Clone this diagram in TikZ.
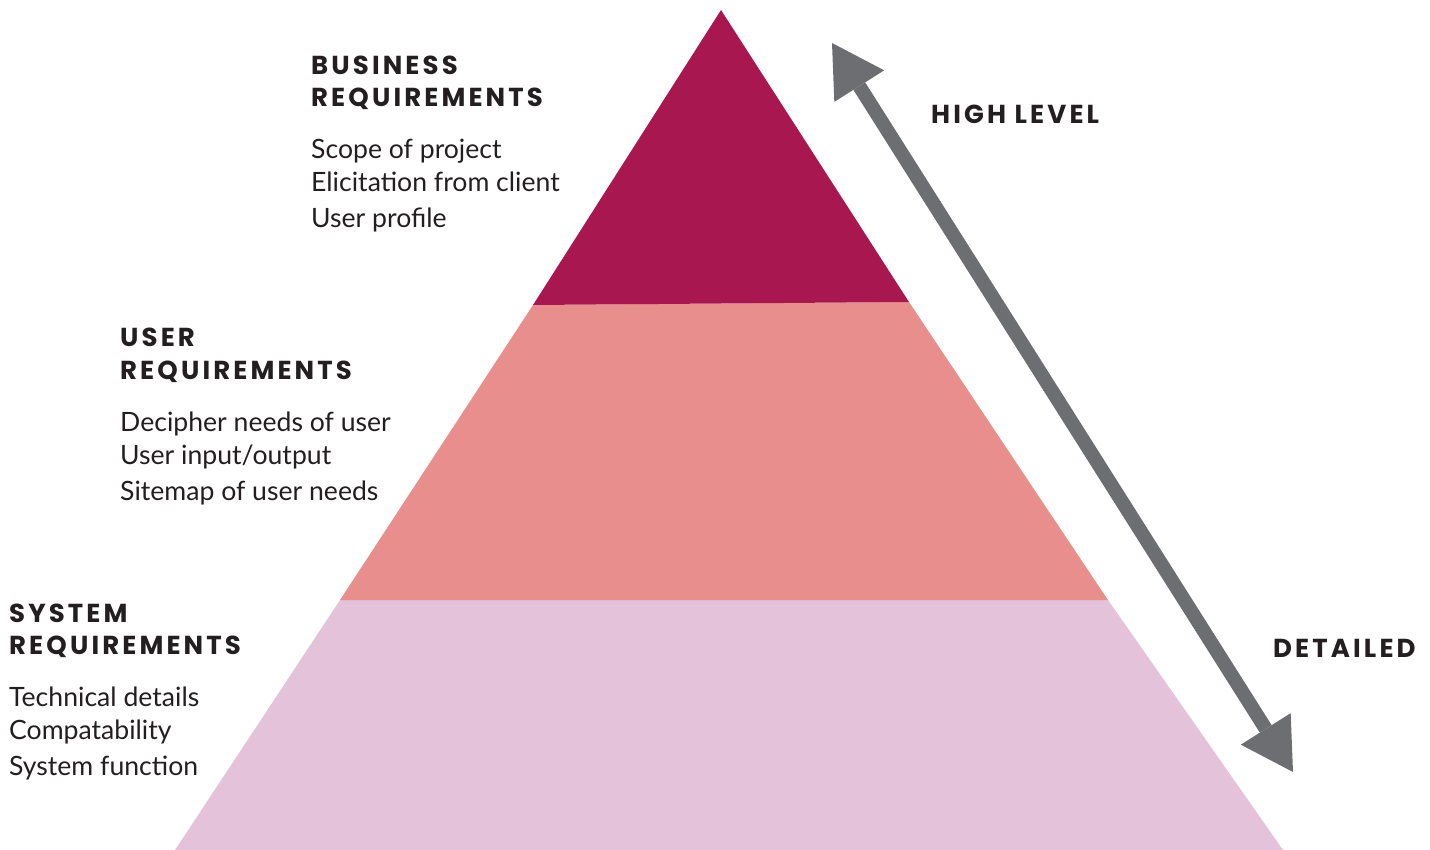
\documentclass[tikz,border=0pt]{standalone}
\usepackage{fontspec}
\setmainfont{Lato}
\newfontfamily\headfont{Poppins}[LetterSpace=12]
\usetikzlibrary{arrows.meta}

\definecolor{bizred}{HTML}{A8174F}
\definecolor{userpink}{HTML}{E88E8D}
\definecolor{syslilac}{HTML}{E4C3DA}
\definecolor{arrowgrey}{HTML}{6D6E71}
\definecolor{textdark}{HTML}{231F20}

\tikzset{
    head/.style={anchor=base west, inner sep=0pt, text=textdark,
        font=\headfont\bfseries\fontsize{26}{26}\selectfont},
    item/.style={anchor=base west, inner sep=0pt, text=textdark,
        font=\fontsize{26.6}{26.6}\selectfont},
    bigtip/.tip={Triangle[length=51pt, width=59pt, line width=0pt]}
}

\begin{document}
\begin{tikzpicture}[x=1pt, y=-1pt]

        \useasboundingbox (0,0) rectangle (1430,850);

        % Corners of the pyramid and its two cuts
        \coordinate (top) at (721,10);
        \coordinate (cutAL) at (533,305);
        \coordinate (cutAR) at (909,302);
        \coordinate (cutBL) at (340,600);
        \coordinate (cutBR) at (1108,600);
        \coordinate (baseL) at (175,850);
        \coordinate (baseR) at (1283,850);

        % The three bands
        \fill[syslilac] (cutBL) -- (cutBR) -- (baseR) -- (baseL) -- cycle;
        \fill[userpink] (cutAL) -- (cutAR) -- (cutBR) -- (cutBL) -- cycle;
        \fill[bizred] (top) -- (cutAR) -- (cutAL) -- cycle;

        % Labels of each band: heading in two lines, then three items
        \foreach \name/\x/\y/\title/\one/\two/\three in {
            biz/311/65/BUSINESS/{Scope of project}/{Elicitation from client}/{User profile},
            user/120/337/USER/{Decipher needs of user}/{User input/output}/{Sitemap of user needs},
            sys/9/612/SYSTEM/{Technical details}/{Compatability}/{System function}} {
            \node[head] (\name-title) at (\x,\y+10) {\title};
            \node[head] (\name-req) at (\x,\y+42) {REQUIREMENTS};
            \node[item] (\name-a) at (\x,\y+94) {\one};
            \node[item] (\name-b) at (\x,\y+127) {\two};
            \node[item] (\name-c) at (\x,\y+163) {\three};
        }

        % Double arrow along the right side
        \coordinate (high) at (832,43);
        \coordinate (low) at (1293,772);
        \draw[arrowgrey, line width=14pt, bigtip-bigtip] (high) -- (low);

        \node[head] (highlevel) at (931,124) {HIGH LEVEL};
        \node[head] (detailed) at (1273,657) {DETAILED};

    \end{tikzpicture}
\end{document}
